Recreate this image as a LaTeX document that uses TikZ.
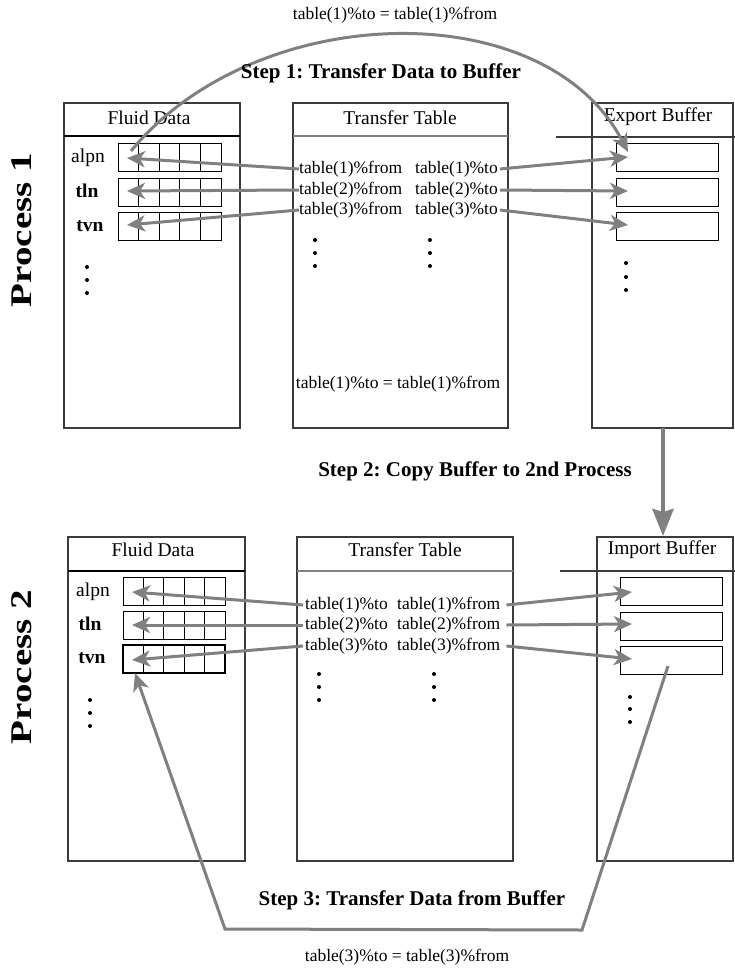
\documentclass[tikz,border=0pt]{standalone}
\usepackage{fontspec}
\setmainfont{Liberation Serif}
\usepackage{graphicx}
\usetikzlibrary{arrows.meta,calc}
\definecolor{flowgray}{RGB}{128,128,128}
\definecolor{boxgray}{RGB}{60,60,60}
\frenchspacing

\tikzset{
  tbltext/.style={font=\fontsize{17.5}{20}\selectfont, inner sep=0pt},
  headtext/.style={font=\fontsize{19.5}{22}\selectfont, inner sep=0pt},
  lbltext/.style={font=\fontsize{19.5}{22}\selectfont, inner sep=0pt},
  steptext/.style={font=\fontsize{21}{24}\selectfont\bfseries, inner sep=0pt},
  proctext/.style={font=\fontsize{30}{32}\selectfont\bfseries, rotate=90, inner sep=0pt},
  boxline/.style={boxgray, line width=1.1pt},
  headline/.style={boxgray, line width=1.3pt},
  cellline/.style={black, line width=1pt},
  flow/.style={flowgray, line width=3pt, line join=miter,
    -{Stealth[length=18pt,width=16pt,inset=5pt]}},
  bigflow/.style={flowgray, line width=4.5pt,
    -{Stealth[length=27pt,width=21pt,inset=3pt]}},
  dot/.style={fill=black}
}

\begin{document}
\begin{tikzpicture}[x=1pt, y=-1pt]
  \useasboundingbox (0,0) rectangle (735,972);

  %% Process labels
  \node[proctext] (procA) at (22,230) {\scalebox{1.3}[1]{Process 1}};
  \node[proctext] (procB) at (22,667) {\scalebox{1.3}[1]{Process 2}};

  %% ---------------- Process 1 ----------------
  %% Fluid data box
  \draw[boxline] (64,103) rectangle (240,428);
  \draw[headline, black] (64,136) -- (240,136);
  \node[headtext] (fluidA) at (149,118) {Fluid Data};
  \foreach \y in {143,178,212} {
    \draw[cellline] (118,\y) rectangle (221,\y+28);
    \foreach \x in {138.6,159.2,179.8,200.4}
      \draw[cellline] (\x,\y) -- (\x,\y+28);
  }
  \node[lbltext] (alpnA) at (88,158) {alpn};
  \node[lbltext] (tlnA) at (87,191) {\bfseries tln};
  \node[lbltext] (tvnA) at (90,226) {\bfseries tvn};
  \foreach \y in {267,280,293} \fill[dot] (87,\y) circle (2pt);

  %% Transfer table box
  \draw[boxline] (293,103) rectangle (508,428);
  \draw[headline, flowgray, line width=2pt] (293,136) -- (508,136);
  \node[headtext] (tableA) at (400,118) {Transfer Table};
  \foreach \x in {315,430}
    \foreach \y in {240,253,266} \fill[dot] (\x,\y) circle (2pt);
  \node[tbltext] (eqA) at (398,384) {table(1)\%to = table(1)\%from};

  %% Export buffer box
  \draw[boxline] (592,428) -- (592,103) -- (733,103) -- (733,428) -- cycle;
  \draw[headline] (556,137) -- (735,137);
  \node[headtext] (expbuf) at (658,117) {Export Buffer};
  \foreach \y in {143,178,212}
    \draw[cellline] (616,\y) rectangle (718,\y+28);
  \foreach \y in {263,277,290} \fill[dot] (626,\y) circle (2pt);

  %% Row transfers, process 1
  \foreach \i/\ty/\fy/\ey in {1/169/158/157, 2/190/191/191, 3/210/225/225} {
    \node[tbltext, anchor=west] (fromA\i) at (299,\ty) {table(\i)\%from};
    \node[tbltext, anchor=west] (toA\i) at (415,\ty) {table(\i)\%to};
    \coordinate (fdA\i) at (127,\fy);
    \coordinate (exA\i) at (628,\ey);
    \draw[flow] (fromA\i.west) -- (fdA\i);
    \draw[flow] ($(toA\i.east)+(2,0)$) -- (exA\i);
  }

  %% Step 1
  \coordinate (arcA) at (131,151);
  \coordinate (arcB) at (628,152);
  \draw[flow] (arcA) .. controls (255,0) and (545,-8) .. (arcB);
  \node[tbltext] (lblA) at (395,15) {table(1)\%to = table(1)\%from};
  \node[steptext] (stepA) at (381,73) {Step 1: Transfer Data to Buffer};

  %% Step 2
  \coordinate (copyA) at (663,428);
  \coordinate (copyB) at (663,536);
  \draw[bigflow] (copyA) -- (copyB);
  \node[steptext] (stepB) at (475,471) {Step 2: Copy Buffer to 2nd Process};

  %% ---------------- Process 2 ----------------
  %% Fluid data box
  \draw[boxline] (68,537) rectangle (245,861);
  \draw[headline, black] (68,571) -- (245,571);
  \node[headtext] (fluidB) at (153,550) {Fluid Data};
  \foreach \y in {577,611,645} {
    \draw[cellline] (123,\y) rectangle (225,\y+28);
    \foreach \x in {143.4,163.8,184.2,204.6}
      \draw[cellline] (\x,\y) -- (\x,\y+28);
  }
  \draw[cellline, line width=1.6pt] (123,645) rectangle (225,673);
  \node[lbltext] (alpnB) at (93,592) {alpn};
  \node[lbltext] (tlnB) at (90,624) {\bfseries tln};
  \node[lbltext] (tvnB) at (92,658) {\bfseries tvn};
  \foreach \y in {700,713,726} \fill[dot] (90,\y) circle (2pt);

  %% Transfer table box
  \draw[boxline] (297,537) rectangle (513,861);
  \draw[headline, flowgray, line width=2pt] (297,571) -- (513,571);
  \node[headtext] (tableB) at (405,550) {Transfer Table};
  \foreach \x in {319,434}
    \foreach \y in {674,687,700} \fill[dot] (\x,\y) circle (2pt);

  %% Import buffer box
  \draw[boxline] (597,861) -- (597,537) -- (733,537) -- (733,861) -- cycle;
  \draw[headline] (560,571) -- (735,571);
  \node[headtext] (impbuf) at (662,550) {Import Buffer};
  \foreach \y in {577,612,646}
    \draw[cellline] (620,\y) rectangle (722,\y+28);
  \foreach \y in {697,709,722} \fill[dot] (630,\y) circle (2pt);

  %% Row transfers, process 2
  \foreach \i/\ty/\fy/\ey in {1/605/592/592, 2/625/625/624, 3/646/660/659} {
    \node[tbltext, anchor=west] (toB\i) at (305,\ty) {table(\i)\%to};
    \node[tbltext, anchor=west] (fromB\i) at (397,\ty) {table(\i)\%from};
    \coordinate (fdB\i) at (132,\fy);
    \coordinate (imB\i) at (632,\ey);
    \draw[flow] ($(toB\i.west)+(-2,0)$) -- (fdB\i);
    \draw[flow] ($(fromB\i.east)+(6,0)$) -- (imB\i);
  }

  %% Step 3
  \coordinate (backA) at (668,666);
  \coordinate (backB) at (582,930);
  \coordinate (backC) at (225,929);
  \coordinate (backD) at (135,673);
  \draw[flow] (backA) -- (backB) -- (backC) -- (backD);
  \node[steptext] (stepC) at (412,900) {Step 3: Transfer Data from Buffer};
  \node[tbltext] (lblC) at (407,957) {table(3)\%to = table(3)\%from};

\end{tikzpicture}
\end{document}
